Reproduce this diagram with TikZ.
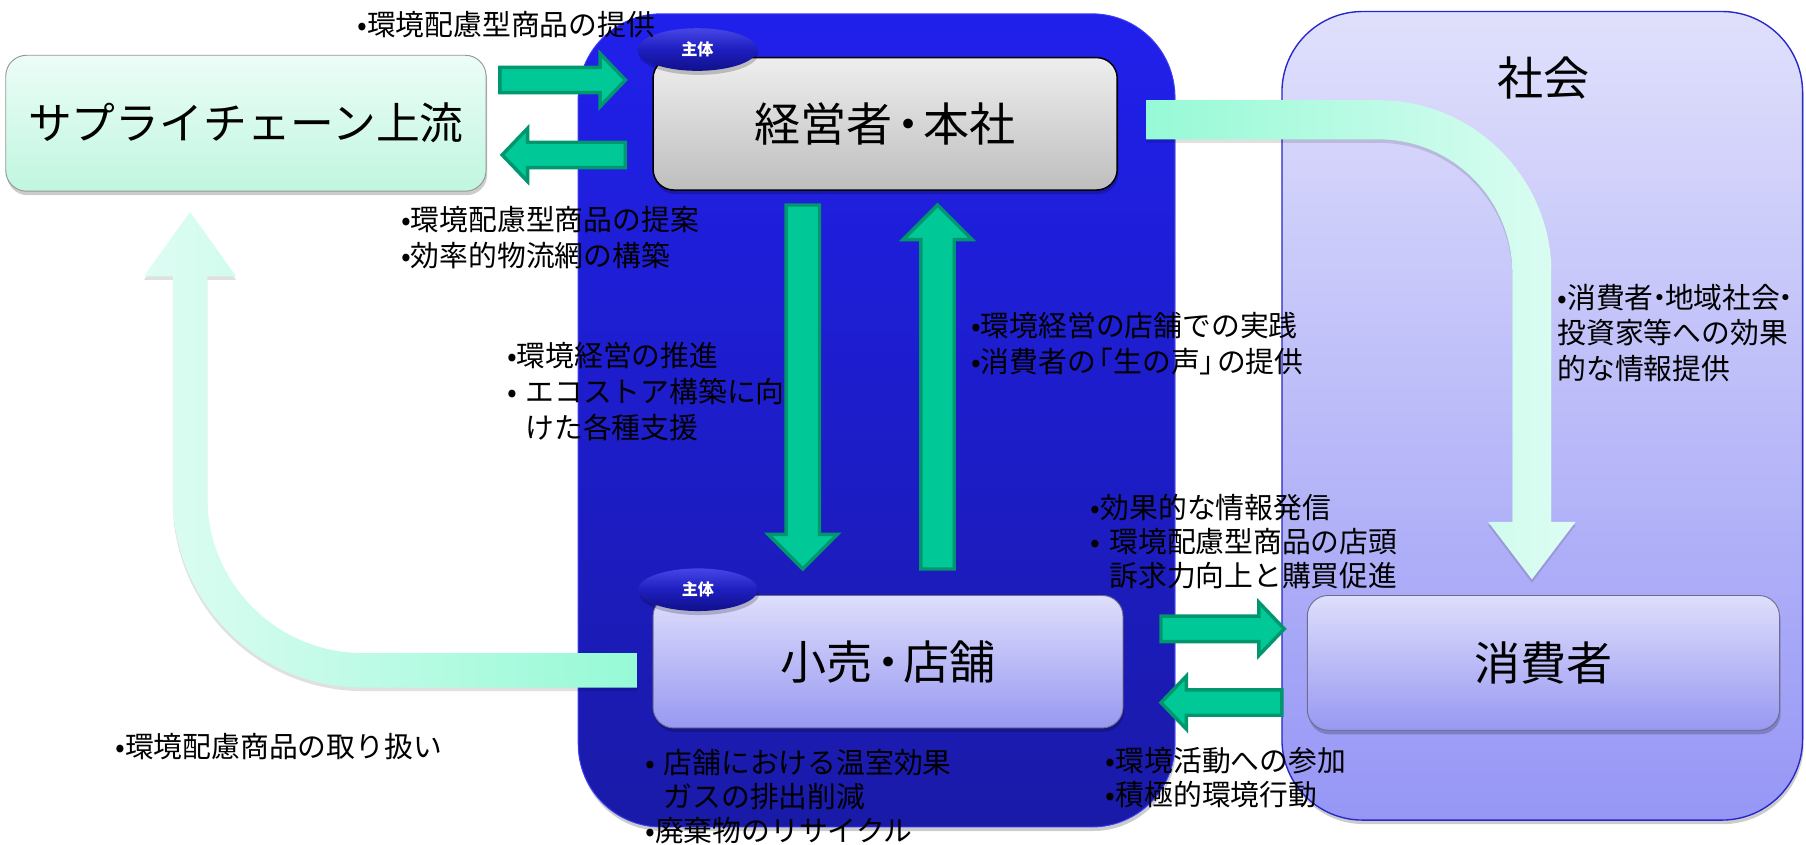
\documentclass[tikz,border=0pt]{standalone}
\usepackage{fontspec}
\setmainfont{Noto Sans CJK JP}
\usetikzlibrary{calc,shadows,shapes.geometric}
\definecolor{gfill}{RGB}{0,200,150}
\definecolor{gline}{RGB}{0,150,110}
\definecolor{mintA}{RGB}{150,250,214}
\definecolor{mintB}{RGB}{222,252,243}
\definecolor{blueT}{RGB}{32,32,236}
\definecolor{blueB}{RGB}{26,26,168}
\definecolor{blueL}{RGB}{60,60,250}
\definecolor{lavT}{RGB}{224,224,252}
\definecolor{lavB}{RGB}{150,150,246}
\definecolor{lavLine}{RGB}{40,40,200}
\definecolor{boxT}{RGB}{222,222,252}
\definecolor{boxB}{RGB}{152,152,242}
\definecolor{boxLine}{RGB}{110,110,140}
\definecolor{grT}{RGB}{238,238,238}
\definecolor{grB}{RGB}{190,190,190}
\definecolor{supT}{RGB}{236,253,247}
\definecolor{supB}{RGB}{192,246,224}
\definecolor{supLine}{RGB}{150,150,150}
\definecolor{tagT}{RGB}{70,70,230}
\definecolor{tagM}{RGB}{30,30,190}
\definecolor{tagB}{RGB}{16,16,140}
\newcommand\hgarrow[5]{%
  \draw[garrow] ($(#1)+(0,-#3)$) -- ($(#2)+(#5,-#3)$) -- ($(#2)+(#5,-#4)$) -- (#2)
    -- ($(#2)+(#5,#4)$) -- ($(#2)+(#5,#3)$) -- ($(#1)+(0,#3)$) -- cycle;}
\newcommand\vgarrow[5]{%
  \draw[garrow] ($(#1)+(-#3,0)$) -- ($(#2)+(-#3,#5)$) -- ($(#2)+(-#4,#5)$) -- (#2)
    -- ($(#2)+(#4,#5)$) -- ($(#2)+(#3,#5)$) -- ($(#1)+(#3,0)$) -- cycle;}
\newcommand\ind{\phantom{•}\hspace{0.3em}}
\newcommand\nd{\hspace{-0.3em}・\hspace{-0.3em}}
\newcommand\bnd{\hspace{-0.17em}・\hspace{-0.17em}}
\newcommand\jlq{\hspace{-0.4em}「}
\newcommand\jrq{」\hspace{-0.4em}}
\begin{document}
\begin{tikzpicture}[x=1pt,y=-1pt,
  bigtxt/.style={font=\fontsize{40}{46}\selectfont},
  lab/.style={font=\fontsize{25}{31}\selectfont, inner sep=0pt, align=left, anchor=west},
  labt/.style={lab, font=\fontsize{25}{29.5}\selectfont},
  shad/.style={drop shadow={shadow xshift=1pt, shadow yshift=-3.5pt, opacity=0.2, fill=black}},
  lshad/.style={drop shadow={shadow xshift=0pt, shadow yshift=-3pt, opacity=0.12, fill=black}},
  garrow/.style={fill=gfill, draw=gline, line width=3pt, line join=miter},
  larrowR/.style={left color=mintA, right color=mintB, draw=none, lshad},
  larrowL/.style={left color=mintB, right color=mintA, draw=none, lshad},
  tag/.style={ellipse, minimum width=104pt, minimum height=37pt, inner sep=0pt,
    top color=tagT, bottom color=tagB, middle color=tagM, text=white,
    font=\fontsize{14}{14}\selectfont\bfseries, shad},
  entity/.style={rectangle, rounded corners=18pt, inner sep=0pt, bigtxt, shad}
]
\useasboundingbox (0,0) rectangle (1568,733);
\fill[white] (0,0) rectangle (1568,733);

% society and corporation frames
\node[rectangle, rounded corners=70pt, minimum width=452pt, minimum height=702pt,
  top color=lavT, bottom color=lavB, draw=lavLine, line width=1.2pt, shad] (soc) at (1339,361) {};
\node[bigtxt] (soct) at (1340,68) {社会};
\node[rectangle, rounded corners=72pt, minimum width=518pt, minimum height=706pt,
  top color=blueT, bottom color=blueB, draw=blueL, line width=0.8pt, shad] (corp) at (761,365) {};

% entities
\node[entity, minimum width=417pt, minimum height=118pt, top color=supT, bottom color=supB,
  draw=supLine, line width=0.8pt, font=\fontsize{38}{44}\selectfont] (sup) at (213.5,107) {サプライチェーン上流};
\node[entity, minimum width=403pt, minimum height=115pt, top color=grT, bottom color=grB,
  draw=black, line width=1.3pt] (hq) at (768.5,107.5) {経営者\bnd 本社};
\node[entity, minimum width=408pt, minimum height=115pt, top color=boxT, bottom color=boxB,
  draw=boxLine, line width=0.8pt] (store) at (771,574.5) {小売\bnd 店舗};
\node[entity, minimum width=410pt, minimum height=117pt, top color=boxT, bottom color=boxB,
  draw=boxLine, line width=0.8pt] (cons) at (1340,575.5) {消費者};

\node[tag] (tag1) at (605.5,43) {主体};
\node[tag] (tag2) at (606,512) {主体};

% light curved arrows
\coordinate (c1s) at (995,104);
\coordinate (c1e) at (1330,503);
\path[larrowR] (c1s |- 0,87) -- (1197,87)
  .. controls (1279.6,87) and (1347,154.4) .. (1347,237)
  -- (1347,453) -- (1368,453) -- (c1e) -- (1292,453) -- (1313,453) -- (1313,237)
  .. controls (1313,173.2) and (1261.3,121) .. (1197,121)
  -- (c1s |- 0,121) -- cycle;

\coordinate (c2s) at (553,582);
\coordinate (c2e) at (165,184);
\path[larrowL] (c2s |- 0,597) -- (315,597)
  .. controls (223.9,597) and (150,523.1) .. (150,432)
  -- (150,240) -- (125,240) -- (c2e) -- (205,240) -- (180,240) -- (180,432)
  .. controls (180,506.6) and (240.4,567) .. (315,567)
  -- (c2s |- 0,567) -- cycle;

% green arrows
\coordinate (g1t) at (434,69.5);  \coordinate (g1h) at (543,69.5);
\coordinate (g2t) at (543,134.5); \coordinate (g2h) at (436,134.5);
\coordinate (g3t) at (697,178);   \coordinate (g3h) at (697,494);
\coordinate (g4t) at (814,494);   \coordinate (g4h) at (814,178);
\coordinate (g5t) at (1008,546);  \coordinate (g5h) at (1115,546);
\coordinate (g6t) at (1113,610);  \coordinate (g6h) at (1008,610);
\hgarrow{g1t}{g1h}{11}{23}{-22}
\hgarrow{g2t}{g2h}{11}{23}{22}
\vgarrow{g3t}{g3h}{14.5}{30}{-30}
\vgarrow{g4t}{g4h}{14.5}{30}{30}
\hgarrow{g5t}{g5h}{11}{23}{-22}
\hgarrow{g6t}{g6h}{11}{23}{22}

% labels
\node[lab] (l1) at (310,21) {•環境配慮型商品の提供};
\node[lab] (l2) at (348,206) {•環境配慮型商品の提案\\•効率的物流網の構築};
\node[lab] (l3) at (440,340) {•環境経営の推進\\•\hspace{0.3em}エコストア構築に向\\\ind けた各種支援};
\node[lab] (l4) at (843,298.5) {•環境経営の店舗での実践\\•消費者の\jlq 生の声\jrq の提供};
\node[lab] (l5) at (1352,289) {•消費者\nd 地域社会\nd\\投資家等への効果\\的な情報提供};
\node[labt] (l6) at (947,470) {•効果的な情報発信\\•\hspace{0.3em}環境配慮型商品の店頭\\\ind 訴求力向上と購買促進};
\node[labt] (l7) at (960,675.5) {•環境活動への参加\\•積極的環境行動};
\node[labt] (l8) at (560,692) {•\hspace{0.3em}店舗における温室効果\\\ind ガスの排出削減\\•廃棄物のリサイクル};
\node[lab] (l9) at (100,648) {•環境配慮商品の取り扱い};
\end{tikzpicture}
\end{document}
